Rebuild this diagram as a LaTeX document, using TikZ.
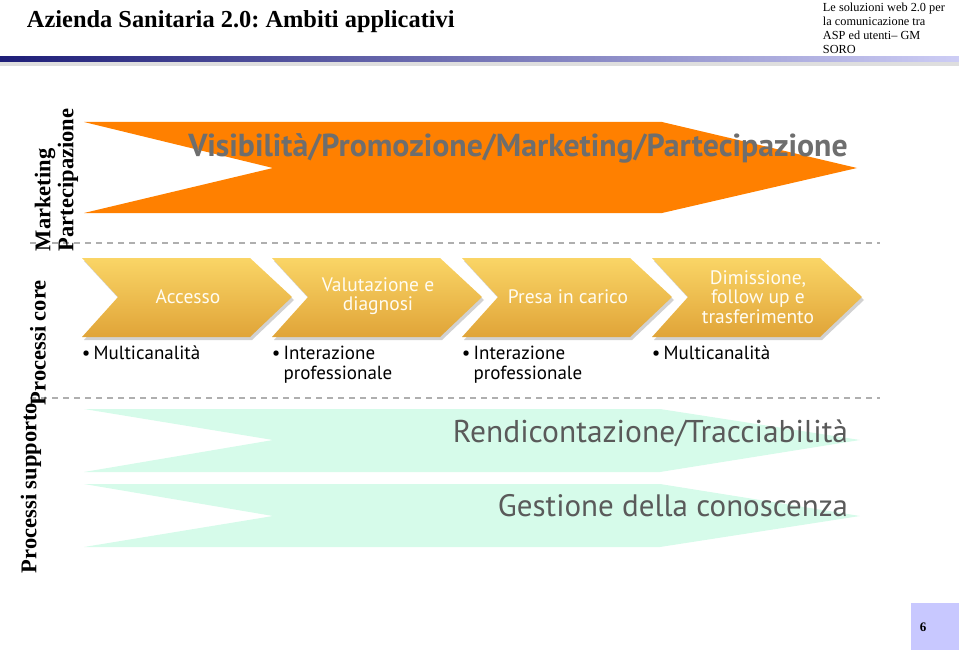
\documentclass[tikz,border=0pt]{standalone}
\usepackage{fontspec}
\setmainfont{Liberation Serif}
\newfontfamily\slidefont{PT Sans}
\frenchspacing
\definecolor{goldtop}{RGB}{250,213,102}
\definecolor{goldbot}{RGB}{224,164,56}
\definecolor{navyline}{RGB}{30,30,120}
\definecolor{lilacline}{RGB}{205,205,245}
\definecolor{creamtext}{RGB}{255,252,242}
\definecolor{slidegray}{RGB}{90,90,90}

\begin{document}
\begin{tikzpicture}[x=1pt,y=1pt,yscale=-1,xscale=1]
\useasboundingbox (0,0) rectangle (959,650);

% Header
\draw (26,22) node [anchor=west][inner sep=0.75pt][font=\fontsize{24.4}{28}\selectfont\bfseries] (title) {Azienda Sanitaria 2.0: Ambiti applicativi};
\draw (822,2.5) node [anchor=north west][inner sep=0.75pt][align=left][font=\fontsize{12.3}{13.8}\selectfont] (autore) {Le soluzioni web 2.0 per\\la comunicazione tra\\ASP ed utenti-- GM\\SORO};
%Header Line
\shade [left color=navyline, right color=lilacline] (0,57) rectangle (959,62) ;
\fill [color={rgb, 255:red, 222; green, 222; blue, 222 }] (0,62) rectangle (959,66) ;

%Shape: Orange Band
\draw  [draw=none,fill={rgb, 255:red, 255; green, 128; blue, 0 }] (84,122) -- (662,122) -- (857,168) -- (662,213) -- (84,213) -- (273,168) -- cycle ;
% Text Node
\draw (518,148) node [inner sep=0.75pt][text={rgb, 255:red, 110; green, 110; blue, 110 }][font=\slidefont\fontsize{31.8}{34}\selectfont\bfseries] (visib) {Visibilità/Promozione/Marketing/Partecipazione};

%Dashed Lines
\draw [color={rgb, 255:red, 175; green, 175; blue, 175 }, line width=1.2, dash pattern=on 6pt off 5pt] (30,243) -- (880,243) ;
\draw [color={rgb, 255:red, 175; green, 175; blue, 175 }, line width=1.2, dash pattern=on 6pt off 5pt] (30,398) -- (880,398) ;

%Shape: Chevron shadows
\fill [black, opacity=0.18] (84,261) -- (252,261) -- (294,300) -- (252,340) -- (84,340) -- (120,300) -- cycle ;
\fill [black, opacity=0.18] (274,261) -- (442,261) -- (484,300) -- (442,340) -- (274,340) -- (310,300) -- cycle ;
\fill [black, opacity=0.18] (464,261) -- (632,261) -- (674,300) -- (632,340) -- (464,340) -- (500,300) -- cycle ;
\fill [black, opacity=0.18] (654,261) -- (822,261) -- (864,300) -- (822,340) -- (654,340) -- (690,300) -- cycle ;
%Shape: Chevrons
\shade [top color=goldtop, bottom color=goldbot] (82,258) -- (250,258) -- (292,297) -- (250,337) -- (82,337) -- (118,297) -- cycle ;
\shade [top color=goldtop, bottom color=goldbot] (272,258) -- (440,258) -- (482,297) -- (440,337) -- (272,337) -- (308,297) -- cycle ;
\shade [top color=goldtop, bottom color=goldbot] (462,258) -- (630,258) -- (672,297) -- (630,337) -- (462,337) -- (498,297) -- cycle ;
\shade [top color=goldtop, bottom color=goldbot] (652,258) -- (820,258) -- (862,297) -- (820,337) -- (652,337) -- (688,297) -- cycle ;

% Text Node
\draw (188,297) node [inner sep=0.75pt][align=center][text=creamtext][font=\slidefont\fontsize{19.5}{19.5}\selectfont] (accesso) {Accesso};
% Text Node
\draw (378,296) node [inner sep=0.75pt][align=center][text=creamtext][font=\slidefont\fontsize{19.5}{19.5}\selectfont] (valutazione) {Valutazione e\\diagnosi};
% Text Node
\draw (568,297) node [inner sep=0.75pt][align=center][text=creamtext][font=\slidefont\fontsize{19.5}{19.5}\selectfont] (presa) {Presa in carico};
% Text Node
\draw (758,297) node [inner sep=0.75pt][align=center][text=creamtext][font=\slidefont\fontsize{19.5}{19.5}\selectfont] (dimissione) {Dimissione,\\follow up e\\trasferimento};

% Text Node
\draw (81,345) node [anchor=north west][inner sep=0.75pt][align=left][font=\slidefont\fontsize{19}{20}\selectfont] (multi1) {•\,Multicanalità};
% Text Node
\draw (271,345) node [anchor=north west][inner sep=0.75pt][align=left][font=\slidefont\fontsize{19}{20}\selectfont] (inter1) {•\,Interazione\\\hphantom{•\,}professionale};
% Text Node
\draw (461,345) node [anchor=north west][inner sep=0.75pt][align=left][font=\slidefont\fontsize{19}{20}\selectfont] (inter2) {•\,Interazione\\\hphantom{•\,}professionale};
% Text Node
\draw (651,345) node [anchor=north west][inner sep=0.75pt][align=left][font=\slidefont\fontsize{19}{20}\selectfont] (multi2) {•\,Multicanalità};

%Shape: Green Bands
\draw  [draw=none,fill={rgb, 255:red, 214; green, 251; blue, 234 }] (84,409) -- (660,409) -- (860,440) -- (660,472) -- (84,472) -- (273,440) -- cycle ;
\draw  [draw=none,fill={rgb, 255:red, 214; green, 251; blue, 234 }] (84,484) -- (660,484) -- (860,516) -- (660,547) -- (84,547) -- (273,516) -- cycle ;
% Text Node
\draw (849,433) node [anchor=east][inner sep=0.75pt][text=slidegray][font=\slidefont\fontsize{31.5}{33}\selectfont] (rendic) {Rendicontazione/Tracciabilità};
% Text Node
\draw (849,506) node [anchor=east][inner sep=0.75pt][text=slidegray][font=\slidefont\fontsize{31}{33}\selectfont] (gestione) {Gestione della conoscenza};

% Side Labels
\draw (45,252) node [anchor=west][inner sep=0.75pt][rotate=90][font=\fontsize{22.5}{24}\selectfont\bfseries] (marketing) {Marketing};
\draw (68,252) node [anchor=west][inner sep=0.75pt][rotate=90][font=\fontsize{22.5}{24}\selectfont\bfseries] (partecip) {Partecipazione};
\draw (38,406) node [anchor=west][inner sep=0.75pt][rotate=90][font=\fontsize{22.5}{24}\selectfont\bfseries] (core) {Processi core};
\draw (31,574) node [anchor=west][inner sep=0.75pt][rotate=90][font=\fontsize{22.5}{24}\selectfont\bfseries] (supporto) {Processi supporto};

% Page Number
\fill [color={rgb, 255:red, 200; green, 200; blue, 255 }] (911,603) rectangle (959,650) ;
\draw (919,627) node [anchor=west][inner sep=0.75pt][font=\fontsize{13}{15}\selectfont\bfseries] (pagina) {6};
\end{tikzpicture}
\end{document}
